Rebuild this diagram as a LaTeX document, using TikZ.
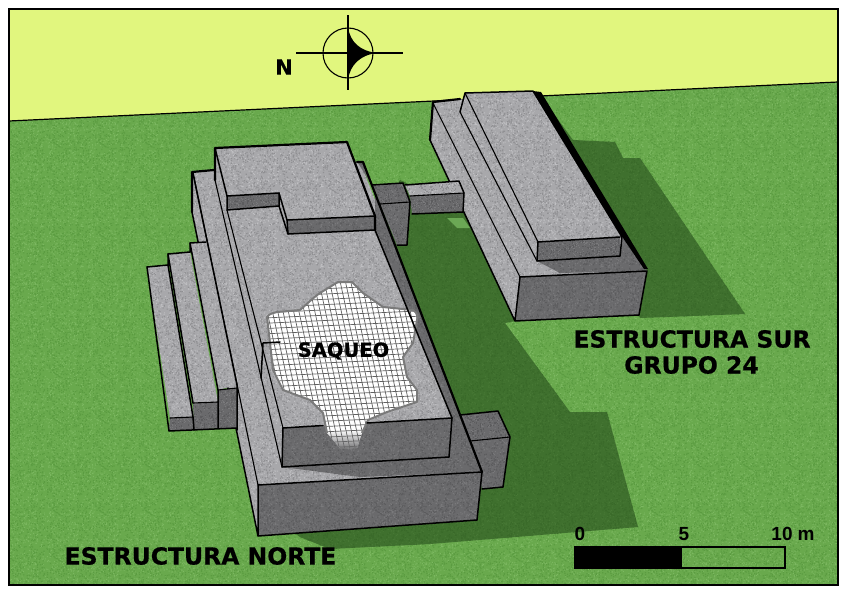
\documentclass[tikz,border=0pt]{standalone}
\usepackage{fontspec}
\setmainfont{DejaVu Sans}
\newfontfamily\heavyfont[FakeBold=0.5]{DejaVu Sans Bold}
\newfontfamily\scalefont{Liberation Sans Bold}
\usetikzlibrary{patterns,fadings}
\definecolor{sky}{HTML}{E1F67E}
\definecolor{grass}{HTML}{69A94D}
\definecolor{grassN}{HTML}{7CB861}
\definecolor{grassD}{HTML}{5B9C41}
\definecolor{dimgrass}{HTML}{3F702E}
\definecolor{dimgrassL}{HTML}{477835}
\definecolor{dimgrassD}{HTML}{396929}
\definecolor{mid}{HTML}{6BA855}
\definecolor{stone}{HTML}{A8A8AB}
\definecolor{stoneL}{HTML}{C0C0C3}
\definecolor{stoneD}{HTML}{909093}
\definecolor{slate}{HTML}{6A6A6C}
\definecolor{slateL}{HTML}{7A7A7C}
\definecolor{slateD}{HTML}{5C5C5E}
\pgfmathsetseed{4711}
\pgfdeclarepatternformonly{grainA}{\pgfqpoint{0pt}{0pt}}{\pgfqpoint{40pt}{40pt}}{\pgfqpoint{40pt}{40pt}}{%
  \foreach \i in {1,...,220}{%
    \pgfmathsetmacro\gx{rnd*39}\pgfmathsetmacro\gy{rnd*39}%
    \pgfpathrectangle{\pgfqpoint{\gx pt}{\gy pt}}{\pgfqpoint{1pt}{1pt}}\pgfusepath{fill}}}
\pgfdeclarepatternformonly{grainB}{\pgfqpoint{0pt}{0pt}}{\pgfqpoint{46pt}{46pt}}{\pgfqpoint{46pt}{46pt}}{%
  \foreach \i in {1,...,240}{%
    \pgfmathsetmacro\gx{rnd*45}\pgfmathsetmacro\gy{rnd*45}%
    \pgfpathrectangle{\pgfqpoint{\gx pt}{\gy pt}}{\pgfqpoint{1.2pt}{1.2pt}}\pgfusepath{fill}}}
\tikzset{
  outline/.style={draw=black,line width=1.5pt,line join=round,line cap=round},
  ridge/.style={draw=black,line width=1.1pt,line cap=round},
  heavy/.style={draw=black,line width=2.2pt,line cap=round,line join=round},
  labeltext/.style={font=\heavyfont\fontsize{23.5}{25}\selectfont,inner sep=0pt,text=black},
  scaletext/.style={font=\scalefont\fontsize{19}{21}\selectfont,inner sep=0pt,text=black},
  gridline/.style={draw=black!62,line width=0.7pt},
}
\newcommand{\stoneface}[1]{%
  \fill[stone] #1;
  \fill[pattern=grainA,pattern color=stoneL] #1;
  \fill[pattern=grainB,pattern color=stoneD] #1;}
\newcommand{\slateface}[1]{%
  \fill[slate] #1;
  \fill[pattern=grainA,pattern color=slateL] #1;
  \fill[pattern=grainB,pattern color=slateD] #1;}
\newcommand{\dimface}[1]{%
  \fill[dimgrass] #1;
  \fill[pattern=grainA,pattern color=dimgrassL] #1;
  \fill[pattern=grainB,pattern color=dimgrassD] #1;}
\begin{document}
\begin{tikzpicture}[x=1pt,y=-1pt]
\useasboundingbox (0,0) rectangle (841,589);
\fill[white] (0,0) rectangle (841,589);
% ground and sky
\fill[grass] (9,9) rectangle (838,585);
\fill[pattern=grainA,pattern color=grassN] (9,9) rectangle (838,585);
\fill[pattern=grainB,pattern color=grassD] (9,9) rectangle (838,585);
\fill[sky] (9,9) -- (838,9) -- (838,82) -- (9,121) -- cycle;
\draw[draw=black,line width=1.2pt] (9,121) -- (838,82);
% shadows on the ground
\dimface{(540,95) -- (573,140) -- (615,142) -- (623,158) -- (640,158) -- (745,314) -- (640,318) -- cycle}
\dimface{(400,180) -- (464,212) -- (515,321) -- (505,323) -- (570,412) -- (607,412) -- (638,527) -- (430,544) -- (330,549) -- (300,537) -- (250,500) -- cycle}
\fill[mid] (447,218) -- (463,218) -- (470,228) -- (457,228) -- cycle;

% --- south structure ---
\stoneface{(433,102) -- (533,93) -- (647,271) -- (520,277) -- (515,321) -- (430,140) -- cycle}
\slateface{(520,277) -- (647,271) -- (639,315) -- (515,321) -- cycle}
\slateface{(537,261) -- (620,256) -- (623,238) -- (647,271) -- (560,273) -- cycle}
\slateface{(538,242) -- (620,237) -- (620,256) -- (537,261) -- cycle}
\stoneface{(465,93) -- (533,91) -- (620,237) -- (538,242) -- cycle}
\stoneface{(465,93) -- (538,242) -- (537,261) -- (460,112) -- cycle}
\draw[heavy] (430,140) -- (433,102) -- (460,99);
\draw[ridge] (433,103) -- (520,277);
\draw[outline] (430,140) -- (515,321) -- (639,315) -- (647,271) -- (520,277) -- (515,321);
\fill[black] (533,91) -- (541,92) -- (648,269) -- (644,269) -- (623,238) -- cycle;
\draw[outline] (460,112) -- (465,93) -- (533,91) -- (622,237) -- (620,256) -- (537,261) -- (538,242) -- (620,237);
\draw[ridge] (465,93) -- (538,242);
\draw[ridge] (460,112) -- (537,261);

% --- bridge and north annex ---
\stoneface{(405,185) -- (459,181) -- (464,193) -- (410,196) -- cycle}
\slateface{(410,196) -- (464,193) -- (463,212) -- (412,214) -- cycle}
\draw[outline] (405,185) -- (459,181) -- (464,193) -- (463,212) -- (412,214);
\draw[ridge] (410,196) -- (464,193);
\slateface{(372,185) -- (403,183) -- (410,202) -- (380,204) -- cycle}
\slateface{(380,204) -- (410,202) -- (407,245) -- (397,245) -- cycle}
\draw[outline] (372,185) -- (403,183) -- (410,202) -- (407,245) -- (397,245);
\draw[ridge] (380,204) -- (410,202);

% --- front annex ---
\slateface{(460,415) -- (498,411) -- (510,437) -- (470,441) -- cycle}
\slateface{(470,441) -- (510,437) -- (503,487) -- (482,489) -- cycle}
\draw[outline] (460,415) -- (498,411) -- (510,437) -- (503,487) -- (482,489);
\draw[ridge] (470,441) -- (510,437);

% --- north structure: base ---
\stoneface{(192,172) -- (360,162) -- (482,472) -- (258,485) -- (258,536) -- (192,212) -- cycle}
\slateface{(258,485) -- (482,472) -- (477,520) -- (258,536) -- cycle}
\slateface{(358,163) -- (363,162) -- (482,472) -- (360,477) -- (282,467) -- (449,457) -- (452,418) -- (375,230) -- (375,190) -- cycle}
\draw[heavy] (192,212) -- (192,172) -- (214,170);
\draw[ridge] (193,173) -- (258,485);
\draw[outline] (192,212) -- (258,536) -- (477,520) -- (482,472) -- (258,485) -- (258,536);
\draw[heavy] (357,162) -- (363,162) -- (482,472);

% --- stairs ---
\stoneface{(190,243) -- (207,242) -- (237,385) -- (218,390) -- cycle}
\slateface{(218,390) -- (237,388) -- (237,428) -- (218,428) -- cycle}
\stoneface{(168,254) -- (190,252) -- (218,402) -- (193,403) -- cycle}
\slateface{(193,403) -- (218,402) -- (218,428) -- (194,430) -- cycle}
\stoneface{(147,267) -- (168,265) -- (193,417) -- (170,418) -- cycle}
\slateface{(170,418) -- (193,417) -- (194,430) -- (169,431) -- cycle}
\draw[ridge] (218,390) -- (237,388);
\draw[outline] (190,252) -- (190,243) -- (206,242);
\draw[outline] (168,265) -- (168,254) -- (190,252);
\draw[outline] (147,267) -- (168,265);
\draw[outline] (147,267) -- (169,431) -- (237,428);
\draw[ridge] (170,418) -- (193,417);
\draw[ridge] (193,403) -- (218,402);
\draw[outline] (168,265) -- (193,417) -- (194,430);
\draw[outline] (168,254) -- (193,403);
\draw[outline] (190,243) -- (218,390) -- (218,428);
\draw[outline] (193,173) -- (237,385) -- (237,430);

% --- north structure: middle terrace ---
\stoneface{(215,148) -- (227,196) -- (227,210) -- (283,428) -- (282,467) -- (215,180) -- cycle}
\stoneface{(227,210) -- (279,206) -- (288,234) -- (375,230) -- (452,418) -- (283,428) -- cycle}
\slateface{(283,428) -- (452,418) -- (449,457) -- (282,467) -- cycle}

% --- looted area ---
\def\saqueo{(267,317) .. controls (270,313) and (274,313) .. (277,312) -- (300,310) .. controls (308,303) and (314,297) .. (320,293) -- (338,282) -- (352,282) -- (363,293) -- (383,307) -- (413,310) .. controls (418,313) and (418,317) .. (417,320) -- (413,343) -- (403,357) -- (407,377) -- (417,390) -- (417,402) -- (387,412) -- (368,420) -- (362,433) -- (357,448) -- (340,448) -- (327,433) -- (323,413) -- (310,400) -- (283,390) -- (273,370) -- (270,343) -- cycle}
\fill[white] \saqueo;
\begin{scope}
  \clip \saqueo;
  \foreach \k in {0,...,36}{
    \draw[gridline] ({255+\k*5.3},280) -- ({255+\k*5.3+38},455);
    \draw[gridline] (255,{276+\k*5.3}) -- (430,{268+\k*5.3});
  }
  \fill[slate,path fading=north] (275,430) rectangle (375,450);
\end{scope}
\draw[draw=black!52,line width=2pt,line join=round] (327,433) -- (323,413) -- (310,400) -- (283,390) -- (273,370) -- (270,343) -- (267,317) .. controls (270,313) and (274,313) .. (277,312) -- (300,310) .. controls (308,303) and (314,297) .. (320,293) -- (338,282) -- (352,282) -- (363,293) -- (383,307) -- (413,310) .. controls (418,313) and (418,317) .. (417,320) -- (413,343) -- (403,357) -- (407,377) -- (417,390) -- (417,402) -- (387,412) -- (368,420) -- (362,433);

% --- north structure: lines of the terrace ---
\draw[ridge] (227,210) -- (283,428);
\draw[ridge] (215,180) -- (282,467);
\draw[outline] (283,428) -- (323,425.5);
\draw[outline] (367,423) -- (452,418) -- (449,457) -- (282,467) -- (283,428);
\draw[outline] (375,230) -- (452,418);
\draw[outline] (280,342) -- (263,343) -- (261,378);

% --- top block ---
\stoneface{(215,148) -- (347,142) -- (375,216) -- (287,220) -- (279,193) -- (227,196) -- cycle}
\stoneface{(279,193) -- (287,220) -- (288,234) -- (279,206) -- cycle}
\slateface{(227,196) -- (279,193) -- (279,206) -- (227,210) -- cycle}
\slateface{(287,220) -- (375,216) -- (375,230) -- (288,234) -- cycle}
\draw[heavy] (215,180) -- (215,148) -- (347,142) -- (375,216) -- (375,230);
\draw[outline] (215,148) -- (227,196) -- (279,193) -- (287,220) -- (375,216);
\draw[outline] (227,196) -- (227,210) -- (279,206) -- (279,193);
\draw[outline] (279,206) -- (288,234) -- (375,230);
\draw[outline] (287,220) -- (288,234);

% --- north mark ---
\coordinate (nc) at (348,53);
\draw[draw=black,line width=1.1pt] (nc) circle (25);
\draw[draw=black,line width=1.1pt] (296,53) -- (403,53);
\draw[draw=black,line width=1.1pt] (348,15) -- (348,90);
\fill[black] (348,27) .. controls (350,42) and (360,51) .. (377,53) .. controls (360,55) and (350,65) .. (348,80) -- cycle;
\node[font=\heavyfont\fontsize{21}{23}\selectfont,inner sep=0pt] (north) at (284,67) {N};

% --- labels ---
\node[labeltext,font=\heavyfont\fontsize{19.5}{21}\selectfont] (sq) at (343.5,351) {SAQUEO};
\node[labeltext] (es) at (692,339) {ESTRUCTURA SUR};
\node[labeltext] (gr) at (691.5,365) {GRUPO 24};
\node[labeltext] (en) at (200.5,556) {ESTRUCTURA NORTE};

% --- scale bar ---
\fill[black] (575,547) rectangle (682,568);
\draw[draw=black,line width=1.2pt] (575,547) rectangle (785,568);
\node[scaletext] (s0) at (580,534) {0};
\node[scaletext] (s5) at (684,534) {5};
\node[scaletext] (s10) at (782,534) {10};
\node[scaletext] (sm) at (806,535) {m};

% frame
\draw[draw=black,line width=2.6pt] (9,9) rectangle (838,585);
\end{tikzpicture}
\end{document}
